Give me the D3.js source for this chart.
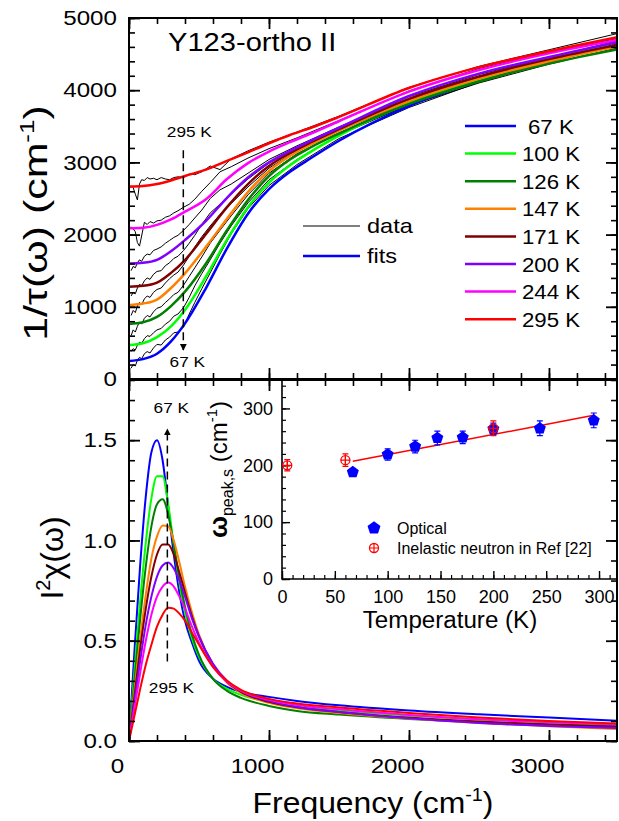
<!DOCTYPE html>
<meta charset="utf-8">
<script src="https://d3js.org/d3.v7.min.js"></script>
<style>
  body { margin: 0; background: #fff; }
  text { font-family: "Liberation Sans", Arial, sans-serif; fill: #000; }
</style>
<div id="chart"></div>
<script>

// temperatures and line colours
var temps = [67, 100, 126, 147, 171, 200, 244, 295];
var colors = ["#0000ff", "#00ff00", "#008000", "#ff8000", "#800000", "#8000ff", "#ff00ff", "#ff0000"];

// top panel: fits of 1/tau (cm-1)
var fitFreq = [0, 100, 200, 300, 400, 550, 700, 850, 1000, 1150, 1300, 1500, 2000, 2500, 3000, 3500];
var fit67  = [250, 275, 350, 520, 770, 1260, 1810, 2290, 2630, 2870, 3060, 3300, 3780, 4130, 4400, 4650];
var fit100 = [470, 495, 580, 730, 956, 1420, 1930, 2380, 2720, 2960, 3150, 3370, 3820, 4150, 4420, 4670];
var fit126 = [762, 785, 860, 1010, 1210, 1600, 2060, 2480, 2810, 3040, 3210, 3400, 3810, 4120, 4370, 4570];
var fit147 = [1025, 1045, 1100, 1260, 1464, 1830, 2220, 2590, 2880, 3090, 3250, 3440, 3850, 4160, 4400, 4610];
var fit171 = [1279, 1290, 1335, 1470, 1648, 2010, 2380, 2700, 2950, 3130, 3280, 3460, 3880, 4190, 4430, 4630];
var fit200 = [1600, 1610, 1650, 1770, 1925, 2190, 2510, 2790, 3000, 3160, 3300, 3480, 3920, 4230, 4460, 4670];
var fit244 = [2087, 2095, 2135, 2210, 2318, 2490, 2770, 2990, 3150, 3280, 3400, 3570, 3980, 4280, 4510, 4700];
var fit295 = [2664, 2672, 2700, 2750, 2812, 2900, 3020, 3140, 3265, 3380, 3480, 3630, 4030, 4320, 4540, 4740];

// top panel: measured 1/tau (cm-1)
var dataFreq = [15, 30, 45, 60, 75, 90, 110, 130, 150, 175, 200, 230, 260, 290, 320, 350, 390, 430, 470, 520, 580, 650, 730, 850, 1000, 1200, 1500, 2000, 2500, 3000, 3500];
var data67  = [150, 200, 180, 260, 300, 280, 350, 380, 360, 430, 480, 470, 540, 580, 640, 650, 720, 900, 1060, 1250, 1470, 1730, 2010, 2360, 2680, 2970, 3330, 3760, 4110, 4390, 4660];
var data100 = [380, 420, 400, 470, 510, 490, 560, 600, 590, 640, 680, 700, 760, 800, 870, 900, 990, 1130, 1290, 1460, 1650, 1880, 2120, 2440, 2760, 3040, 3380, 3800, 4140, 4410, 4690];
var data126 = [600, 680, 650, 730, 790, 760, 840, 880, 860, 930, 980, 1000, 1060, 1110, 1170, 1200, 1300, 1420, 1540, 1690, 1880, 2060, 2260, 2550, 2850, 3120, 3410, 3790, 4100, 4360, 4590];
var data147 = [880, 950, 920, 1010, 1060, 1030, 1110, 1150, 1130, 1200, 1240, 1260, 1330, 1390, 1440, 1480, 1580, 1700, 1830, 1970, 2120, 2280, 2430, 2660, 2920, 3170, 3450, 3830, 4140, 4390, 4630];
var data171 = [1150, 1200, 1180, 1260, 1310, 1290, 1360, 1400, 1380, 1450, 1490, 1500, 1570, 1610, 1670, 1700, 1780, 1880, 1990, 2140, 2300, 2420, 2560, 2770, 2990, 3200, 3470, 3870, 4180, 4420, 4650];
var data200 = [1500, 1560, 1540, 1610, 1650, 1630, 1700, 1730, 1720, 1780, 1800, 1830, 1880, 1920, 1960, 1990, 2060, 2140, 2230, 2340, 2500, 2620, 2700, 2850, 3040, 3230, 3490, 3910, 4220, 4450, 4690];
var data244 = [2110, 2080, 2040, 1890, 1840, 1980, 2170, 2140, 2180, 2160, 2190, 2200, 2240, 2260, 2300, 2330, 2380, 2420, 2490, 2600, 2720, 2870, 2940, 3060, 3190, 3340, 3580, 3990, 4300, 4530, 4720];
var data295 = [2680, 2650, 2560, 2480, 2700, 2760, 2750, 2790, 2770, 2780, 2760, 2790, 2770, 2760, 2790, 2800, 2790, 2840, 2830, 2870, 2950, 2900, 3050, 3160, 3280, 3420, 3640, 4040, 4330, 4560, 4790];

// bottom panel: I^2 chi(omega)
var chiFreq = [0, 40, 80, 120, 160, 200, 240, 280, 320, 360, 400, 450, 500, 600, 700, 800, 1000, 1200, 1500, 2000, 2500, 3000, 3500];
var chi67  = [0, 0.46, 0.88, 1.22, 1.44, 1.50, 1.40, 1.17, 0.93, 0.74, 0.60, 0.49, 0.40, 0.31, 0.27, 0.245, 0.22, 0.20, 0.178, 0.152, 0.133, 0.117, 0.10];
var chi100 = [0, 0.36, 0.70, 0.99, 1.21, 1.32, 1.32, 1.18, 0.98, 0.79, 0.64, 0.51, 0.42, 0.31, 0.26, 0.23, 0.195, 0.172, 0.152, 0.127, 0.107, 0.092, 0.08];
var chi126 = [0, 0.31, 0.61, 0.87, 1.07, 1.18, 1.205, 1.13, 0.98, 0.81, 0.67, 0.53, 0.43, 0.31, 0.25, 0.215, 0.175, 0.15, 0.132, 0.11, 0.094, 0.082, 0.074];
var chi147 = [0, 0.26, 0.51, 0.73, 0.91, 1.02, 1.075, 1.07, 1.00, 0.89, 0.77, 0.64, 0.53, 0.38, 0.29, 0.24, 0.19, 0.163, 0.14, 0.112, 0.09, 0.074, 0.06];
var chi171 = [0, 0.23, 0.46, 0.66, 0.82, 0.93, 0.98, 0.98, 0.93, 0.84, 0.74, 0.62, 0.52, 0.38, 0.295, 0.245, 0.195, 0.168, 0.145, 0.117, 0.097, 0.082, 0.07];
var chi200 = [0, 0.20, 0.40, 0.58, 0.72, 0.82, 0.875, 0.89, 0.86, 0.80, 0.72, 0.61, 0.52, 0.385, 0.30, 0.25, 0.20, 0.17, 0.145, 0.113, 0.09, 0.075, 0.064];
var chi244 = [0, 0.17, 0.34, 0.50, 0.63, 0.72, 0.77, 0.79, 0.77, 0.72, 0.66, 0.57, 0.49, 0.37, 0.295, 0.25, 0.205, 0.18, 0.158, 0.13, 0.108, 0.094, 0.082];
var chi295 = [0, 0.13, 0.26, 0.38, 0.48, 0.57, 0.63, 0.665, 0.66, 0.635, 0.60, 0.54, 0.48, 0.37, 0.30, 0.255, 0.21, 0.187, 0.167, 0.14, 0.117, 0.10, 0.087];

// inset: peak position vs temperature
var optT = [67, 100, 126, 147, 171, 200, 244, 295];
var optW = [188, 219, 233, 248, 249, 264, 265, 279];
var optErr = [6, 10, 11, 12, 11, 10, 13, 13];
var neuT = [5, 60, 200];
var neuW = [200, 209, 265];
var neuErr = [10, 11, 13];
var lineT = [67, 295];
var lineW = [207, 288];

// arrows: [frequency, start value, end value]
var arrowTop = [388, 3170, 400];
var arrowBot = [274, 0.397, 1.555];

// tick values
var freqMajor = [0, 1000, 2000, 3000];
var tauMajor = [0, 1000, 2000, 3000, 4000, 5000];
var chiMajor = [0, 0.5, 1.0, 1.5];
var tMajor = [0, 50, 100, 150, 200, 250, 300];
var wMajor = [0, 100, 200, 300];

var fits = [fit67, fit100, fit126, fit147, fit171, fit200, fit244, fit295];
var datas = [data67, data100, data126, data147, data171, data200, data244, data295];
var chis = [chi67, chi100, chi126, chi147, chi171, chi200, chi244, chi295];

var svg = d3.select("#chart").append("svg")
    .attr("width", 619)
    .attr("height", 821);

var x = d3.scaleLinear().domain([0, 3486]).range([129, 617]);
var yTop = d3.scaleLinear().domain([0, 5000]).range([379, 18]);
var yBot = d3.scaleLinear().domain([0, 1.8]).range([741, 380]);
var xIn = d3.scaleLinear().domain([0, 317]).range([282, 617]);
var yIn = d3.scaleLinear().domain([0, 350]).range([579, 380]);

var defs = svg.append("defs");
defs.append("clipPath").attr("id", "clipTop")
  .append("rect").attr("x", 129).attr("y", 18).attr("width", 488).attr("height", 361);
defs.append("clipPath").attr("id", "clipBot")
  .append("rect").attr("x", 129).attr("y", 380).attr("width", 488).attr("height", 361);
defs.append("marker").attr("id", "head")
    .attr("viewBox", "0 0 10 10").attr("refX", 9).attr("refY", 5)
    .attr("markerWidth", 7).attr("markerHeight", 9).attr("markerUnits", "userSpaceOnUse")
    .attr("orient", "auto")
  .append("path").attr("d", "M0,0L10,5L0,10Z").attr("fill", "#000");

function range(a, b, step) {
  return d3.range(a, b + step / 2, step);
}

// inward ticks, no labels
function ticks(scale, side, at, values, len, width) {
  var gen = {left: d3.axisLeft, right: d3.axisRight, top: d3.axisTop, bottom: d3.axisBottom}[side];
  var tr = (side == "left" || side == "right") ? "translate(" + at + ",0)" : "translate(0," + at + ")";
  var a = svg.append("g").attr("transform", tr)
    .call(gen(scale).tickValues(values).tickSize(-len).tickSizeOuter(0).tickFormat(""));
  a.select(".domain").remove();
  a.selectAll("line").attr("stroke", "#000").attr("stroke-width", width);
}

function labels(scale, side, at, values, fmt, pad, size, sx, dx) {
  var gen = side == "left" ? d3.axisLeft : d3.axisBottom;
  var tr = side == "left" ? "translate(" + at + ",0)" : "translate(0," + at + ")";
  var a = svg.append("g").attr("transform", tr)
    .call(gen(scale).tickValues(values).tickSize(0).tickPadding(pad).tickFormat(fmt));
  a.select(".domain").remove();
  a.selectAll("text")
    .attr("font-size", size)
    .attr("transform", "scale(" + sx + ",1)");
  if (dx) a.selectAll("text").attr("x", dx / sx);
}

function panelFrame(sx, sy, xMaj, xMin, yMaj, yMin) {
  var r = sx.range(), d = sy.range();
  ticks(sx, "bottom", d[0], xMin, 6, 1.6);
  ticks(sx, "bottom", d[0], xMaj, 11, 1.8);
  ticks(sx, "top", d[1], xMin, 6, 1.6);
  ticks(sx, "top", d[1], xMaj, 11, 1.8);
  ticks(sy, "left", r[0], yMin, 6, 1.6);
  ticks(sy, "left", r[0], yMaj, 11, 1.8);
  ticks(sy, "right", r[1], yMin, 6, 1.6);
  ticks(sy, "right", r[1], yMaj, 11, 1.8);
  svg.append("rect")
    .attr("x", r[0]).attr("y", d[1])
    .attr("width", r[1] - r[0]).attr("height", d[0] - d[1])
    .attr("fill", "none").attr("stroke", "#000").attr("stroke-width", 2);
}

function txt(x, y, str, size, anchor, sx) {
  return svg.append("text")
    .attr("transform", "translate(" + x + "," + y + ") scale(" + (sx || 1) + ",1)")
    .attr("font-size", size)
    .attr("text-anchor", anchor || "start")
    .text(str);
}

// ---------- top panel ----------
var lineTop = d3.line().x(function(d) { return x(d[0]); }).y(function(d) { return yTop(d[1]); });
var gTop = svg.append("g").attr("clip-path", "url(#clipTop)");

datas.forEach(function(v) {
  gTop.append("path")
    .datum(d3.zip(dataFreq, v))
    .attr("d", lineTop)
    .attr("fill", "none").attr("stroke", "#000").attr("stroke-width", 1);
});
fits.forEach(function(v, i) {
  gTop.append("path")
    .datum(d3.zip(fitFreq, v))
    .attr("d", lineTop.curve(d3.curveMonotoneX))
    .attr("fill", "none").attr("stroke", colors[i]).attr("stroke-width", 2.5);
  lineTop.curve(d3.curveLinear);
});

panelFrame(x, yTop, freqMajor, range(0, 3400, 200), tauMajor, range(0, 5000, 200));
labels(yTop, "left", 129, tauMajor, d3.format("d"), 10.5, 21, 1.15);

// dashed arrow, top
svg.append("line")
  .attr("x1", x(arrowTop[0])).attr("x2", x(arrowTop[0]))
  .attr("y1", yTop(arrowTop[1])).attr("y2", yTop(arrowTop[2]))
  .attr("stroke", "#000").attr("stroke-width", 1.5)
  .attr("stroke-dasharray", "8,5")
  .attr("marker-end", "url(#head)");
txt(x(arrowTop[0]) + 6, 137, "295 K", 15, "middle", 1.15);
txt(x(arrowTop[0]) + 4, 367, "67 K", 15, "middle", 1.15);

txt(168, 51, "Y123-ortho II", 26, "start", 1.12);

// y label, top
var yl = svg.append("text")
  .attr("transform", "translate(47,223) rotate(-90) scale(1.3,1)")
  .attr("text-anchor", "middle").attr("font-size", 33);
yl.append("tspan").text("1/\u03C4(\u03C9) (cm");
yl.append("tspan").attr("font-size", 20).attr("dy", -13).text("-1");
yl.append("tspan").attr("dy", 13).text(")");

// data / fits legend
svg.append("line").attr("x1", 303).attr("x2", 360).attr("y1", 226).attr("y2", 226)
  .attr("stroke", "#000").attr("stroke-width", 1);
svg.append("line").attr("x1", 303).attr("x2", 360).attr("y1", 256).attr("y2", 256)
  .attr("stroke", colors[0]).attr("stroke-width", 2.5);
txt(367, 233, "data", 21, "start", 1.12);
txt(367, 263, "fits", 21, "start", 1.12);

// temperature legend
temps.forEach(function(t, i) {
  var yy = 126 + i * 27.6;
  svg.append("line").attr("x1", 465).attr("x2", 516).attr("y1", yy).attr("y2", yy)
    .attr("stroke", colors[i]).attr("stroke-width", 2.5);
  txt(t < 100 ? 528 : 522, yy + 7.5, t + " K", 21, "start", 1.06);
});

// ---------- bottom panel ----------
var lineBot = d3.line().curve(d3.curveMonotoneX)
  .x(function(d) { return x(d[0]); }).y(function(d) { return yBot(d[1]); });
var gBot = svg.append("g").attr("clip-path", "url(#clipBot)");
chis.forEach(function(v, i) {
  gBot.append("path")
    .datum(d3.zip(chiFreq, v))
    .attr("d", lineBot)
    .attr("fill", "none").attr("stroke", colors[i]).attr("stroke-width", 2);
});

panelFrame(x, yBot, freqMajor, range(0, 3400, 200), chiMajor, range(0, 1.8, 0.1).map(function(v) { return +v.toFixed(1); }));
labels(yBot, "left", 129, chiMajor, d3.format(".1f"), 10.5, 21, 1.15);
labels(x, "bottom", 741, freqMajor, d3.format("d"), 17, 21, 1.15, -12);

svg.append("line")
  .attr("x1", x(arrowBot[0])).attr("x2", x(arrowBot[0]))
  .attr("y1", yBot(arrowBot[1])).attr("y2", yBot(arrowBot[2]))
  .attr("stroke", "#000").attr("stroke-width", 1.5)
  .attr("stroke-dasharray", "8,5")
  .attr("marker-end", "url(#head)");
txt(x(arrowBot[0]) + 4, 413, "67 K", 15, "middle", 1.15);
txt(x(arrowBot[0]) + 4, 693, "295 K", 15, "middle", 1.15);

var bl = svg.append("text")
  .attr("transform", "translate(63,558) rotate(-90)")
  .attr("text-anchor", "middle").attr("font-size", 32);
bl.append("tspan").text("I");
bl.append("tspan").attr("font-size", 20).attr("dy", -13).text("2");
bl.append("tspan").attr("dy", 13).text("\u03C7(\u03C9)");

var xl = svg.append("text")
  .attr("transform", "translate(373,813) scale(1.1,1)")
  .attr("text-anchor", "middle").attr("font-size", 29);
xl.append("tspan").text("Frequency (cm");
xl.append("tspan").attr("font-size", 18).attr("dy", -12).text("-1");
xl.append("tspan").attr("dy", 12).text(")");

// ---------- inset ----------
ticks(xIn, "bottom", 579, range(0, 310, 10), 4, 1.2);
ticks(xIn, "bottom", 579, tMajor, 8, 1.4);
ticks(yIn, "left", 282, range(0, 340, 20), 4, 1.2);
ticks(yIn, "left", 282, wMajor, 8, 1.4);
svg.append("path")
  .attr("d", "M" + xIn(0) + "," + yIn(350) + "V" + yIn(0) + "H" + xIn(317))
  .attr("fill", "none").attr("stroke", "#000").attr("stroke-width", 1.6);
labels(yIn, "left", 282, wMajor, d3.format("d"), 9, 18, 1);
labels(xIn, "bottom", 579, tMajor, d3.format("d"), 11, 18, 1);

svg.append("line")
  .attr("x1", xIn(lineT[0])).attr("y1", yIn(lineW[0]))
  .attr("x2", xIn(lineT[1])).attr("y2", yIn(lineW[1]))
  .attr("stroke", "#ff0000").attr("stroke-width", 1.5);

var pentagon = {
  draw: function(ctx, size) {
    var r = Math.sqrt(size / 2.378);
    for (var i = 0; i < 5; i++) {
      var a = -Math.PI / 2 + i * 2 * Math.PI / 5;
      if (i == 0) ctx.moveTo(r * Math.cos(a), r * Math.sin(a));
      else ctx.lineTo(r * Math.cos(a), r * Math.sin(a));
    }
    ctx.closePath();
  }
};

function errBars(ts, ws, es, color) {
  ts.forEach(function(t, i) {
    var cx = xIn(t), y1 = yIn(ws[i] - es[i]), y2 = yIn(ws[i] + es[i]);
    svg.append("path")
      .attr("d", "M" + cx + "," + y1 + "V" + y2 + "M" + (cx - 3) + "," + y1 + "H" + (cx + 3) + "M" + (cx - 3) + "," + y2 + "H" + (cx + 3))
      .attr("fill", "none").attr("stroke", color).attr("stroke-width", 1.2);
  });
}

function circlePlus(g, cx, cy) {
  g.append("circle").attr("cx", cx).attr("cy", cy).attr("r", 4.5)
    .attr("fill", "none").attr("stroke", "#ff0000").attr("stroke-width", 1.3);
  g.append("path")
    .attr("d", "M" + (cx - 4.5) + "," + cy + "H" + (cx + 4.5) + "M" + cx + "," + (cy - 4.5) + "V" + (cy + 4.5))
    .attr("stroke", "#ff0000").attr("stroke-width", 1.2);
}

errBars(optT, optW, optErr, "#0000ff");
svg.selectAll(".opt")
  .data(d3.zip(optT, optW))
  .enter().append("path")
    .attr("class", "opt")
    .attr("transform", function(d) { return "translate(" + xIn(d[0]) + "," + yIn(d[1]) + ")"; })
    .attr("d", d3.symbol(pentagon, 95))
    .attr("fill", "#0000ff");

errBars(neuT, neuW, neuErr, "#ff0000");
neuT.forEach(function(t, i) { circlePlus(svg, xIn(t), yIn(neuW[i])); });

// inset legend
svg.append("path")
  .attr("transform", "translate(374,528)")
  .attr("d", d3.symbol(pentagon, 110))
  .attr("fill", "#0000ff");
circlePlus(svg, 374, 548);
txt(397, 533.5, "Optical", 16, "start", 1);
txt(397, 553.5, "Inelastic neutron in Ref [22]", 16, "start", 1);

txt(450, 628, "Temperature (K)", 23, "middle", 1.05);

var il = svg.append("text")
  .attr("transform", "translate(227,538) rotate(-90)")
  .attr("text-anchor", "start").attr("font-size", 24);
il.append("tspan").attr("font-weight", "bold").attr("font-size", 26).text("\u03C9");
il.append("tspan").attr("font-size", 16).attr("dy", 6).text("peak,s");
il.append("tspan").attr("dy", -6).text(" (cm");
il.append("tspan").attr("font-size", 15).attr("dy", -10).text("-1");
il.append("tspan").attr("dy", 10).text(")");

</script>
